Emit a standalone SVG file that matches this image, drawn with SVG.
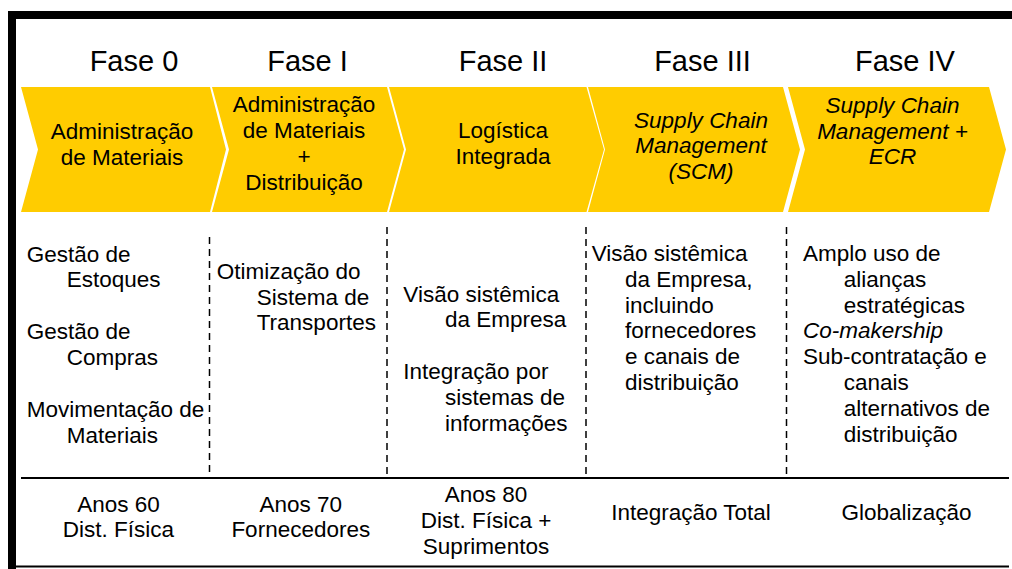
<svg xmlns="http://www.w3.org/2000/svg" width="1012" height="569" viewBox="0 0 1012 569">
<style>
.t{font-family:"Liberation Sans",Arial,sans-serif;font-size:22.5px;fill:#000}
.ph{font-family:"Liberation Sans",Arial,sans-serif;font-size:29px;fill:#000;text-anchor:middle}
.c{text-anchor:middle}
.i{font-style:italic}
.chev{fill:#FFCC00}
.dash{stroke:#000;stroke-width:1.5;stroke-dasharray:7 5;fill:none}
.rule{stroke:#000;stroke-width:2;fill:none}
</style>
<rect x="0" y="0" width="1012" height="569" fill="#fff"/>
<g id="frame">
<rect x="8" y="11" width="1004" height="8" fill="#000"/>
<rect x="8" y="11" width="8" height="558" fill="#000"/>
</g>
<g id="phases">
<text class="ph" x="134" y="71">Fase 0</text>
<text class="ph" x="307.5" y="71">Fase I</text>
<text class="ph" x="503" y="71">Fase II</text>
<text class="ph" x="702.5" y="71">Fase III</text>
<text class="ph" x="905" y="71">Fase IV</text>
</g>
<g id="chevron0">
<polygon class="chev" points="21,87 210,87 226,149.5 210,212 21,212 38,149.5"/>
<text class="t c" x="122" y="139">Administração</text>
<text class="t c" x="122" y="165">de Materiais</text>
</g>
<g id="chevron1">
<polygon class="chev" points="212,87 387,87 404,149.5 387,212 212,212 229,149.5"/>
<text class="t c" x="304" y="111.7">Administração</text>
<text class="t c" x="304" y="137.7">de Materiais</text>
<text class="t c" x="304" y="163.7">+</text>
<text class="t c" x="304" y="189.7">Distribuição</text>
</g>
<g id="chevron2">
<polygon class="chev" points="389,87 586.5,87 604,149.5 586.5,212 389,212 406,149.5"/>
<text class="t c" x="503" y="138.3">Logística</text>
<text class="t c" x="503" y="164.3">Integrada</text>
</g>
<g id="chevron3">
<polygon class="chev" points="588,87 783,87 800,149.5 783,212 588,212 605,149.5"/>
<text class="t c i" x="701" y="127.5">Supply Chain</text>
<text class="t c i" x="701" y="153.3">Management</text>
<text class="t c i" x="701" y="178.8">(SCM)</text>
</g>
<g id="chevron4">
<polygon class="chev" points="788,87 989,87 1006,149.5 989,212 788,212 805,149.5"/>
<text class="t c i" x="892.5" y="113">Supply Chain</text>
<text class="t c i" x="892.5" y="138.5">Management +</text>
<text class="t c i" x="892.5" y="164">ECR</text>
</g>
<g id="connectors">
<line class="dash" x1="209.5" y1="237" x2="209.5" y2="478"/>
<line class="dash" x1="387" y1="227" x2="387" y2="478"/>
<line class="dash" x1="586" y1="227" x2="586" y2="478"/>
<line class="dash" x1="786.5" y1="227" x2="786.5" y2="478"/>
<line class="rule" x1="21" y1="478" x2="1009" y2="478"/>
<line class="rule" x1="15" y1="566.5" x2="1009" y2="566.5"/>
</g>
<g id="col0">
<text class="t" x="26.7" y="261.5">Gestão de</text>
<text class="t" x="66.7" y="287">Estoques</text>
<text class="t" x="26.7" y="339.3">Gestão de</text>
<text class="t" x="66.7" y="365">Compras</text>
<text class="t" x="26.7" y="417.3">Movimentação de</text>
<text class="t" x="66.7" y="443">Materiais</text>
</g>
<g id="col1">
<text class="t" x="216.7" y="279">Otimização do</text>
<text class="t" x="256.7" y="304.5">Sistema de</text>
<text class="t" x="256.7" y="330">Transportes</text>
</g>
<g id="col2">
<text class="t" x="403.3" y="301.5">Visão sistêmica</text>
<text class="t" x="445" y="327.3">da Empresa</text>
<text class="t" x="403.3" y="379.3">Integração por</text>
<text class="t" x="445" y="405">sistemas de</text>
<text class="t" x="445" y="430.8">informações</text>
</g>
<g id="col3">
<text class="t" x="591.7" y="261">Visão sistêmica</text>
<text class="t" x="625" y="286.8">da Empresa,</text>
<text class="t" x="625" y="312.6">incluindo</text>
<text class="t" x="625" y="338.4">fornecedores</text>
<text class="t" x="625" y="364.2">e canais de</text>
<text class="t" x="625" y="390">distribuição</text>
</g>
<g id="col4">
<text class="t" x="803" y="261">Amplo uso de</text>
<text class="t" x="843.7" y="286.8">alianças</text>
<text class="t" x="843.7" y="312.6">estratégicas</text>
<text class="t i" x="803" y="338.4">Co-makership</text>
<text class="t" x="803" y="364.2">Sub-contratação e</text>
<text class="t" x="843.7" y="390">canais</text>
<text class="t" x="843.7" y="415.8">alternativos de</text>
<text class="t" x="843.7" y="441.6">distribuição</text>
</g>
<g id="era0">
<text class="t c" x="118.5" y="511.5">Anos 60</text>
<text class="t c" x="118.5" y="537">Dist. Física</text>
</g>
<g id="era1">
<text class="t c" x="300.8" y="511.5">Anos 70</text>
<text class="t c" x="300.8" y="537">Fornecedores</text>
</g>
<g id="era2">
<text class="t c" x="486" y="502">Anos 80</text>
<text class="t c" x="486" y="528">Dist. Física +</text>
<text class="t c" x="486" y="553.5">Suprimentos</text>
</g>
<g id="era3">
<text class="t c" x="691" y="519.5">Integração Total</text>
</g>
<g id="era4">
<text class="t c" x="906.5" y="519.5">Globalização</text>
</g>
</svg>
